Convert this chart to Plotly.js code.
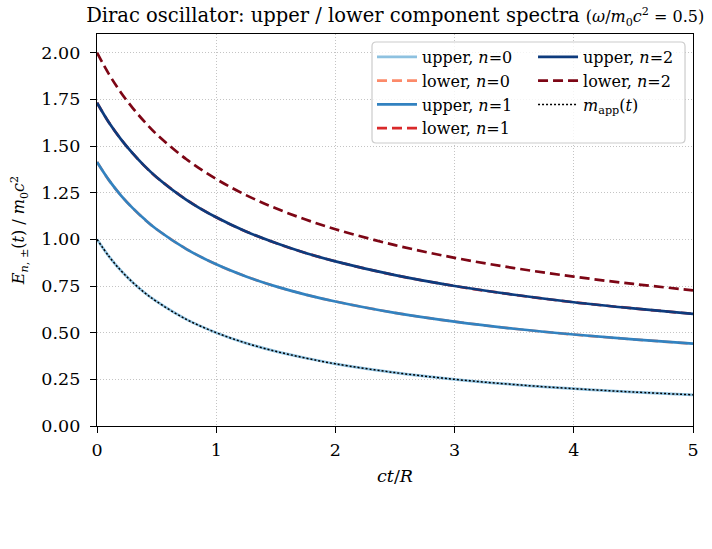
<!DOCTYPE html>
<html>
<head>
<meta charset="utf-8">
<script src="https://cdn.plot.ly/plotly-3.0.1.min.js"></script>
<style>
  html, body { margin: 0; padding: 0; background: #fff; }
  #chart { width: 712px; height: 549px; }
</style>
</head>
<body>
<div id="chart"></div>
<script>
// Time axis, ct/R
const t = [0, 0.1, 0.2, 0.3, 0.4, 0.5, 0.75, 1, 1.25, 1.5, 1.75, 2, 2.5, 3, 3.5, 4, 4.5, 5];

// Energies in units of m0 c^2
const upper0 = [1.000, 0.909, 0.833, 0.769, 0.714, 0.667, 0.571, 0.500, 0.444, 0.400, 0.364, 0.333, 0.286, 0.250, 0.222, 0.200, 0.182, 0.167];
const lower0 = [1.414, 1.317, 1.236, 1.167, 1.107, 1.054, 0.948, 0.866, 0.801, 0.748, 0.704, 0.667, 0.606, 0.559, 0.521, 0.490, 0.464, 0.441];
const upper1 = [1.414, 1.317, 1.236, 1.167, 1.107, 1.054, 0.948, 0.866, 0.801, 0.748, 0.704, 0.667, 0.606, 0.559, 0.521, 0.490, 0.464, 0.441];
const lower1 = [1.732, 1.626, 1.537, 1.460, 1.392, 1.333, 1.212, 1.118, 1.042, 0.980, 0.927, 0.882, 0.808, 0.750, 0.703, 0.663, 0.630, 0.601];
const upper2 = [1.732, 1.626, 1.537, 1.460, 1.392, 1.333, 1.212, 1.118, 1.042, 0.980, 0.927, 0.882, 0.808, 0.750, 0.703, 0.663, 0.630, 0.601];
const lower2 = [2.000, 1.885, 1.787, 1.703, 1.629, 1.563, 1.429, 1.323, 1.237, 1.166, 1.106, 1.054, 0.969, 0.901, 0.846, 0.800, 0.761, 0.727];
const mApp   = [1.000, 0.909, 0.833, 0.769, 0.714, 0.667, 0.571, 0.500, 0.444, 0.400, 0.364, 0.333, 0.286, 0.250, 0.222, 0.200, 0.182, 0.167];

const xTicks = [0, 1, 2, 3, 4, 5];
const yTicks = [0, 0.25, 0.5, 0.75, 1.0, 1.25, 1.5, 1.75, 2.0];
const yTickText = ['0.00', '0.25', '0.50', '0.75', '1.00', '1.25', '1.50', '1.75', '2.00'];

const serif = 'DejaVu Serif, serif';

function curve(y, name, color, dash, width, legend) {
  return {
    x: t, y: y, name: name, type: 'scatter', mode: 'lines',
    line: { color: color, dash: dash, width: width, shape: 'spline', smoothing: 1.0 },
    legend: legend, hoverinfo: 'skip'
  };
}

// two legend columns: upper/lower n=0,1 on the left; n=2 and m_app on the right
const traces = [
  curve(upper0, 'upper, <i>n</i>=0', '#8dc1e0', 'solid', 2.7, 'legend'),
  curve(lower0, 'lower, <i>n</i>=0', '#fc8a6a', '10px,5px', 2.7, 'legend'),
  curve(upper1, 'upper, <i>n</i>=1', '#3282c0', 'solid', 2.7, 'legend'),
  curve(lower1, 'lower, <i>n</i>=1', '#d9292a', '10px,5px', 2.7, 'legend'),
  curve(upper2, 'upper, <i>n</i>=2', '#0d3b7d', 'solid', 2.7, 'legend2'),
  curve(lower2, 'lower, <i>n</i>=2', '#7d0615', '10px,5px', 2.7, 'legend2'),
  curve(mApp, '<i>m</i><sub>app</sub>(<i>t</i>)', '#000000', '2px,2px', 1.5, 'legend2')
];

// rounded frame shared by both legend columns (paper coordinates)
const fx0 = 0.4614, fx1 = 0.9866, fy0 = 0.722, fy1 = 0.9796, rx = 0.007, ry = 0.011;
const framePath =
  `M${fx0 + rx},${fy1} L${fx1 - rx},${fy1} Q${fx1},${fy1} ${fx1},${fy1 - ry} ` +
  `L${fx1},${fy0 + ry} Q${fx1},${fy0} ${fx1 - rx},${fy0} ` +
  `L${fx0 + rx},${fy0} Q${fx0},${fy0} ${fx0},${fy0 + ry} ` +
  `L${fx0},${fy1 - ry} Q${fx0},${fy1} ${fx0 + rx},${fy1} Z`;

const legendCommon = {
  orientation: 'v', xanchor: 'left', yanchor: 'top', y: 0.985,
  bgcolor: 'rgba(0,0,0,0)', borderwidth: 0,
  font: { family: serif, size: 16, color: '#000' }, itemwidth: 40, tracegroupgap: 0
};

const layout = {
  width: 712, height: 549,
  margin: { l: 97, r: 19, t: 34, b: 123 },
  paper_bgcolor: '#ffffff', plot_bgcolor: '#ffffff',
  font: { family: serif, size: 17, color: '#000' },
  title: {
    text: 'Dirac oscillator: upper / lower component spectra <span style="font-size:16px">(<i>ω</i>/<i>m</i><sub>0</sub><i>c</i><sup>2</sup> = 0.5)</span>',
    font: { family: serif, size: 19.5, color: '#000' },
    x: 0.555, xanchor: 'center', y: 0.972, yanchor: 'middle'
  },
  xaxis: {
    range: [0, 5], tickvals: xTicks, ticktext: xTicks.map(String),
    showline: true, linecolor: '#000', linewidth: 1.2, mirror: true,
    ticks: 'outside', ticklen: 6, tickcolor: '#000', ticklabelstandoff: 2,
    showgrid: true, gridcolor: '#c4c4c4', griddash: '1px,2px', gridwidth: 1,
    zeroline: false, tickfont: { family: serif, size: 17.5 },
    title: { text: '<i>ct</i>/<i>R</i>', font: { family: serif, size: 17.5 }, standoff: 10 }
  },
  yaxis: {
    range: [0, 2.1], tickvals: yTicks, ticktext: yTickText,
    showline: true, linecolor: '#000', linewidth: 1.2, mirror: true,
    ticks: 'outside', ticklen: 6, tickcolor: '#000', ticklabelstandoff: 6,
    showgrid: true, gridcolor: '#c4c4c4', griddash: '1px,2px', gridwidth: 1,
    zeroline: false, tickfont: { family: serif, size: 17.5 },
    title: { text: '<i>E</i><sub><i>n</i>, ±</sub>(<i>t</i>) / <i>m</i><sub>0</sub><i>c</i><sup>2</sup>', font: { family: serif, size: 16 }, standoff: 12 }
  },
  shapes: [{
    type: 'path', xref: 'paper', yref: 'paper', path: framePath, layer: 'above',
    fillcolor: 'rgba(255,255,255,0.82)', line: { color: '#cccccc', width: 1.2 }
  }],
  showlegend: true,
  legend: Object.assign({}, legendCommon, { x: 0.4614 }),
  legend2: Object.assign({}, legendCommon, { x: 0.7316 })
};

Plotly.newPlot('chart', traces, layout, { displayModeBar: false, staticPlot: true });
</script>
</body>
</html>
